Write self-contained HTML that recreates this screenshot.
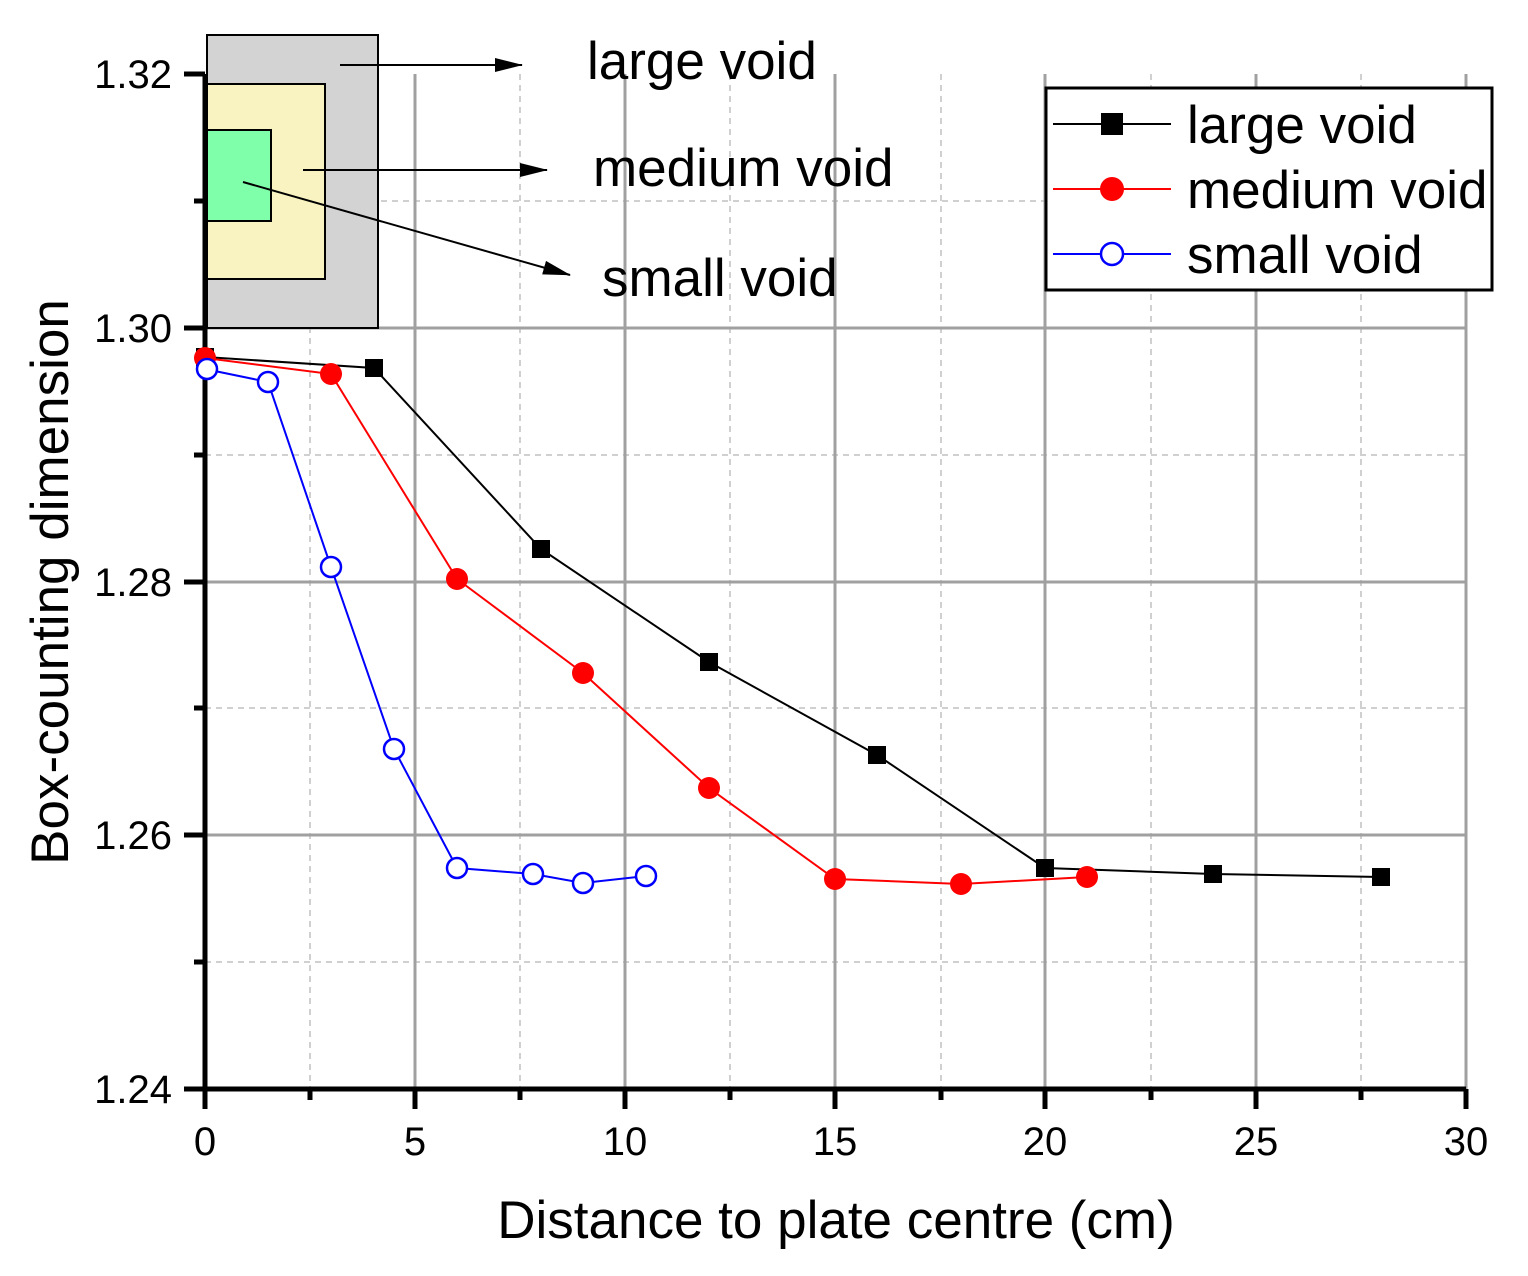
<!DOCTYPE html>
<html><head><style>body{margin:0;background:#fff}svg{display:block}text{font-family:"Liberation Sans",Arial,sans-serif}</style></head><body>
<svg width="1528" height="1276" viewBox="0 0 1528 1276" xmlns="http://www.w3.org/2000/svg">
<defs>
<marker id="ar" viewBox="0 0 28 14" markerWidth="28" markerHeight="14" refX="27" refY="7" orient="auto" markerUnits="userSpaceOnUse"><path d="M0,0 L28,7 L0,14 z" fill="#000"/></marker></defs>
<g stroke="#d0d0d0" stroke-width="2" stroke-dasharray="6,5">
<line x1="310" y1="74" x2="310" y2="1089"/><line x1="520" y1="74" x2="520" y2="1089"/><line x1="730" y1="74" x2="730" y2="1089"/><line x1="941" y1="74" x2="941" y2="1089"/><line x1="1151" y1="74" x2="1151" y2="1089"/><line x1="1361" y1="74" x2="1361" y2="1089"/>
<line x1="205" y1="201" x2="1466" y2="201"/><line x1="205" y1="455" x2="1466" y2="455"/><line x1="205" y1="708" x2="1466" y2="708"/><line x1="205" y1="962" x2="1466" y2="962"/>
</g>
<g stroke="#a0a0a0" stroke-width="3">
<line x1="415" y1="74" x2="415" y2="1089"/><line x1="625" y1="74" x2="625" y2="1089"/><line x1="835" y1="74" x2="835" y2="1089"/><line x1="1045" y1="74" x2="1045" y2="1089"/><line x1="1256" y1="74" x2="1256" y2="1089"/><line x1="1466" y1="74" x2="1466" y2="1089"/>
<line x1="205" y1="328" x2="1466" y2="328"/><line x1="205" y1="582" x2="1466" y2="582"/><line x1="205" y1="835" x2="1466" y2="835"/>
</g>
<rect x="207" y="35" width="171" height="293" fill="#d3d3d3" stroke="#000" stroke-width="2"/>
<rect x="207" y="84" width="118" height="195" fill="#f8f3c0" stroke="#000" stroke-width="2"/>
<rect x="207" y="130" width="64" height="91" fill="#80ffaa" stroke="#000" stroke-width="2"/>
<g stroke="#000" stroke-width="2" fill="none">
<line x1="340" y1="65" x2="522" y2="65" marker-end="url(#ar)"/>
<line x1="303" y1="170" x2="547" y2="170" marker-end="url(#ar)"/>
<line x1="243" y1="182" x2="570" y2="275" marker-end="url(#ar)"/>
</g>
<g font-size="53" fill="#000">
<text x="587" y="79">large void</text>
<text x="593" y="186">medium void</text>
<text x="602" y="296">small void</text>
</g>
<g stroke="#000" stroke-width="5">
<line x1="205" y1="74" x2="205" y2="1091"/><line x1="203" y1="1089" x2="1466" y2="1089"/>
<line x1="184" y1="74" x2="205" y2="74"/><line x1="184" y1="328" x2="205" y2="328"/><line x1="184" y1="582" x2="205" y2="582"/><line x1="184" y1="835" x2="205" y2="835"/><line x1="184" y1="1089" x2="205" y2="1089"/>
<line x1="194" y1="201" x2="205" y2="201"/><line x1="194" y1="455" x2="205" y2="455"/><line x1="194" y1="708" x2="205" y2="708"/><line x1="194" y1="962" x2="205" y2="962"/>
<line x1="205" y1="1089" x2="205" y2="1109"/><line x1="415" y1="1089" x2="415" y2="1109"/><line x1="625" y1="1089" x2="625" y2="1109"/><line x1="835" y1="1089" x2="835" y2="1109"/><line x1="1045" y1="1089" x2="1045" y2="1109"/><line x1="1256" y1="1089" x2="1256" y2="1109"/><line x1="1466" y1="1089" x2="1466" y2="1109"/>
<line x1="310" y1="1089" x2="310" y2="1100"/><line x1="520" y1="1089" x2="520" y2="1100"/><line x1="730" y1="1089" x2="730" y2="1100"/><line x1="941" y1="1089" x2="941" y2="1100"/><line x1="1151" y1="1089" x2="1151" y2="1100"/><line x1="1361" y1="1089" x2="1361" y2="1100"/>
</g>
<g font-size="40" fill="#000" text-anchor="end">
<text x="172" y="88">1.32</text><text x="172" y="342">1.30</text><text x="172" y="596">1.28</text><text x="172" y="849">1.26</text><text x="172" y="1103">1.24</text>
</g>
<g font-size="40" fill="#000" text-anchor="middle">
<text x="205" y="1155">0</text><text x="415" y="1155">5</text><text x="625" y="1155">10</text><text x="835" y="1155">15</text><text x="1045" y="1155">20</text><text x="1256" y="1155">25</text><text x="1466" y="1155">30</text>
</g>
<text x="836" y="1238" font-size="53" text-anchor="middle">Distance to plate centre (cm)</text>
<text transform="translate(68,582) rotate(-90)" font-size="53" text-anchor="middle">Box-counting dimension</text>
<polyline fill="none" stroke="#000" stroke-width="2" points="205,357 374,368 541,549 709,662 877,755 1045,868 1213,874 1381,877"/>
<g fill="#000"><rect x="196" y="348" width="18" height="18"/><rect x="365" y="359" width="18" height="18"/><rect x="532" y="540" width="18" height="18"/><rect x="700" y="653" width="18" height="18"/><rect x="868" y="746" width="18" height="18"/><rect x="1036" y="859" width="18" height="18"/><rect x="1204" y="865" width="18" height="18"/><rect x="1372" y="868" width="18" height="18"/></g>
<polyline fill="none" stroke="#f00" stroke-width="2" points="205,358 331,374 457,579 583,673 709,788 835,879 961,884 1087,877"/>
<g fill="#f00"><circle cx="205" cy="358" r="11"/><circle cx="331" cy="374" r="11"/><circle cx="457" cy="579" r="11"/><circle cx="583" cy="673" r="11"/><circle cx="709" cy="788" r="11"/><circle cx="835" cy="879" r="11"/><circle cx="961" cy="884" r="11"/><circle cx="1087" cy="877" r="11"/></g>
<polyline fill="none" stroke="#00f" stroke-width="2" points="205,369 268,382 331,567 394,749 457,868 533,874 583,883 646,876"/>
<g fill="#fff" stroke="#00f" stroke-width="2.5"><circle cx="207" cy="369" r="10"/><circle cx="268" cy="382" r="10"/><circle cx="331" cy="567" r="10"/><circle cx="394" cy="749" r="10"/><circle cx="457" cy="868" r="10"/><circle cx="533" cy="874" r="10"/><circle cx="583" cy="883" r="10"/><circle cx="646" cy="876" r="10"/></g>
<rect x="1046" y="88" width="446" height="202" fill="#fff" stroke="#000" stroke-width="3"/>
<line x1="1053" y1="124" x2="1171" y2="124" stroke="#000" stroke-width="2"/><rect x="1101" y="113" width="22" height="22" fill="#000"/>
<line x1="1053" y1="189" x2="1171" y2="189" stroke="#f00" stroke-width="2"/><circle cx="1112" cy="189" r="12" fill="#f00"/>
<line x1="1053" y1="254" x2="1171" y2="254" stroke="#00f" stroke-width="2"/><circle cx="1112" cy="254" r="11" fill="#fff" stroke="#00f" stroke-width="2.5"/>
<g font-size="53" fill="#000"><text x="1187" y="143">large void</text><text x="1187" y="208">medium void</text><text x="1187" y="273">small void</text></g>
</svg>
</body></html>
